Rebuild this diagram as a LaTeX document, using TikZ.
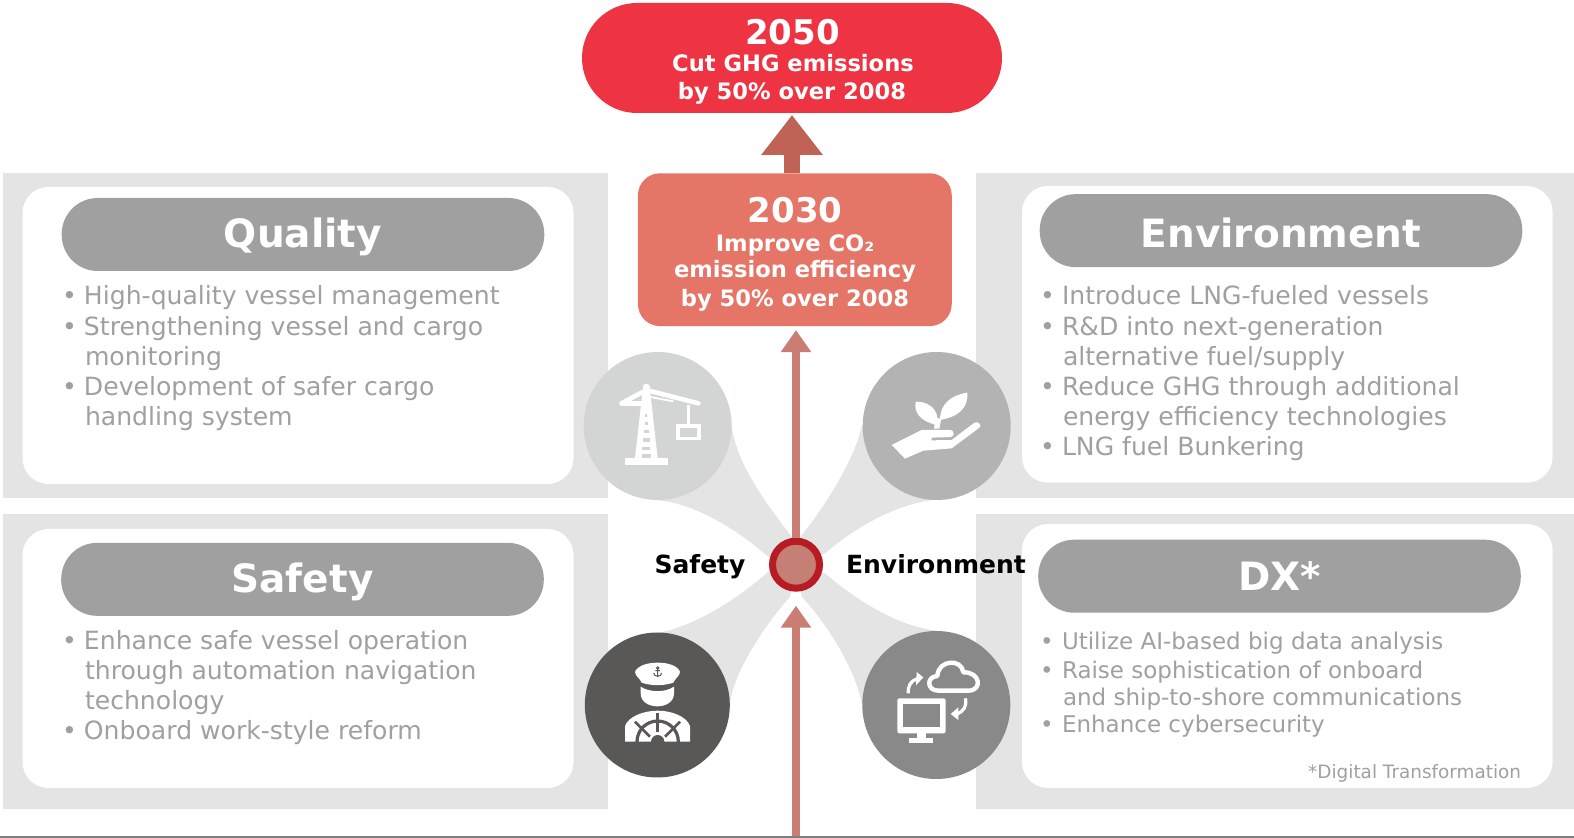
\documentclass[tikz,border=0pt]{standalone}
\usepackage{fontspec}
\setmainfont{DejaVu Sans}
\usetikzlibrary{arrows.meta,calc}
\definecolor{panelgray}{HTML}{E4E4E4}
\definecolor{pillgray}{HTML}{A0A0A0}
\definecolor{redtop}{HTML}{EE3343}
\definecolor{redmid}{HTML}{E57567}
\definecolor{arrtop}{HTML}{BF6357}
\definecolor{arrthin}{HTML}{C97D73}
\definecolor{hubfill}{HTML}{C67F74}
\definecolor{hubring}{HTML}{B71C24}
\definecolor{ccrane}{HTML}{D3D5D4}
\definecolor{cleaf}{HTML}{B3B3B3}
\definecolor{ccapt}{HTML}{595856}
\definecolor{ccloud}{HTML}{898989}
\newcommand{\bu}{\makebox[11pt][l]{•}}
\tikzset{
  every node/.style={inner sep=0pt,outer sep=0pt},
  panel/.style={fill=panelgray,minimum width=#1},
  card/.style={fill=white,rounded corners=13pt,minimum width=#1},
  pill/.style={fill=pillgray,rounded corners=18pt,minimum width=241.3pt,minimum height=36.5pt,text=white,font=\fontsize{19.5}{22}\selectfont\bfseries,text height=13.5pt,text depth=0pt},
  body/.style={anchor=base west,text=pillgray,font=\fontsize{12.55}{14}\selectfont},
  bodysm/.style={anchor=base west,text=pillgray,font=\fontsize{11.5}{13}\selectfont},
  note/.style={anchor=base east,text=pillgray,font=\fontsize{9.2}{11}\selectfont},
  yeartxt/.style={anchor=base,text=white,font=\fontsize{17}{20}\selectfont\bfseries},
  goaltxt/.style={anchor=base,text=white,font=\fontsize{11.3}{13}\selectfont\bfseries},
  axis/.style={anchor=base,text=black,font=\fontsize{12.5}{15}\selectfont\bfseries},
  disc/.style={circle,minimum size=#1},
  thinarrow/.style={draw=arrthin,line width=4pt,-{Triangle[width=14.5pt,length=11pt]}},
  fatarrow/.style={draw=arrtop,line width=8pt,-{Triangle[width=29.5pt,length=20pt]}},
  zoomed/.style={shift={(560,340)},x=0.16667pt,y=-0.16667pt},
}
\begin{document}
\begin{tikzpicture}[x=0.5pt,y=-0.5pt]
\useasboundingbox (0,0) rectangle (1574,838);
\fill[white] (0,0) rectangle (1574,838);
% panels
\node[panel=302.5pt,minimum height=162.5pt] (pTL) at (305.5,335.5) {};
\node[panel=302.5pt,minimum height=147.35pt] (pBL) at (305.5,661.35) {};
\node[panel=299pt,minimum height=162.5pt] (pTR) at (1275,335.5) {};
\node[panel=299pt,minimum height=147.35pt] (pBR) at (1275,661.35) {};
\node[card=275.5pt,minimum height=148.5pt] (cTL) at (298,335.5) {};
\node[card=275.5pt,minimum height=129.5pt] (cBL) at (298,658.5) {};
\node[card=265.3pt,minimum height=148.35pt] (cTR) at (1287.3,334.35) {};
\node[card=265.3pt,minimum height=132pt] (cBR) at (1287.3,656) {};
% pills
\node[pill] (qual) at (303,234.5) {Quality};
\node[pill] (safe) at (302.5,579.35) {Safety};
\node[pill,text height=16.5pt] (envi) at (1281,230.65) {Environment};
\node[pill,text height=14.5pt] (dx) at (1279.5,576.2) {DX*};
% Quality text
\node[body] (q1) at (62,305) {\bu High-quality vessel management};
\node[body] (q2) at (62,336) {\bu Strengthening vessel and cargo};
\node[body] (q2b) at (85,366) {monitoring};
\node[body] (q3) at (62,396) {\bu Development of safer cargo};
\node[body] (q3b) at (85,425.5) {handling system};
% Safety text
\node[body] (s1) at (62,650) {\bu Enhance safe vessel operation};
\node[body] (s1b) at (85,680) {through automation navigation};
\node[body] (s1c) at (85,710) {technology};
\node[body] (s2) at (62,740) {\bu Onboard work-style reform};
% Environment text
\node[body] (e1) at (1040,305) {\bu Introduce LNG-fueled vessels};
\node[body] (e2) at (1040,336) {\bu R\&D into next-generation};
\node[body] (e2b) at (1063,366) {alternative fuel/supply};
\node[body] (e3) at (1040,396) {\bu Reduce GHG through additional};
\node[body] (e3b) at (1063,426) {energy efficiency technologies};
\node[body] (e4) at (1040,456) {\bu LNG fuel Bunkering};
% DX text
\node[bodysm] (d1) at (1040,650) {\bu Utilize AI-based big data analysis};
\node[bodysm] (d2) at (1040,679) {\bu Raise sophistication of onboard};
\node[bodysm] (d2b) at (1063,706) {and ship-to-shore communications};
\node[bodysm] (d3) at (1040,733) {\bu Enhance cybersecurity};
\node[note] (dn) at (1521,778) {*Digital Transformation};
% bottom rule
\coordinate (ruleL) at (0,837);
\coordinate (ruleR) at (1574,837);
\draw[draw=gray,line width=1pt] (ruleL) -- (ruleR);
% star
\begin{scope}[zoomed]
\fill[panelgray] (515,258) .. controls (530,370) and (610,480) .. (695,590) -- (710,674) -- (625,650) .. controls (520,560) and (400,490) .. (290,480) -- (293,258) -- cycle;
\fill[panelgray] (905,258) .. controls (890,340) and (810,480) .. (722,590) -- (710,674) -- (795,640) .. controls (900,550) and (1020,490) .. (1130,478) -- (1130,258) -- cycle;
\fill[panelgray] (510,1090) .. controls (520,1000) and (610,860) .. (690,770) -- (710,674) -- (625,695) .. controls (530,780) and (400,860) .. (290,880) -- (292,1095) -- cycle;
\fill[panelgray] (905,1090) .. controls (890,1000) and (810,860) .. (725,770) -- (710,674) -- (795,700) .. controls (900,790) and (1020,860) .. (1130,872) -- (1128,1095) -- cycle;
\end{scope}
% discs
\node[disc=74pt,fill=ccrane] (dcrane) at (657.7,426) {};
\node[disc=74pt,fill=cleaf] (dleaf) at (936.7,426) {};
\node[disc=72.5pt,fill=ccapt] (dcapt) at (657.3,705) {};
\node[disc=74pt,fill=ccloud] (dcloud) at (936.3,705) {};
% goals
\node[fill=redtop,rounded corners=27.5pt,minimum width=210pt,minimum height=55pt] (y2050) at (792,58) {};
\node[fill=redmid,rounded corners=11pt,minimum width=156.9pt,minimum height=76.4pt] (y2030) at (794.85,249.7) {};
\node[yeartxt] (a1) at (792.5,44.5) {2050};
\node[goaltxt] (a2) at (793,72) {Cut GHG emissions};
\node[goaltxt] (a3) at (792,99.5) {by 50\% over 2008};
\node[yeartxt] (b1) at (795,223) {2030};
\node[goaltxt] (b2) at (795,251.7) {Improve CO₂};
\node[goaltxt] (b3) at (795,277.7) {emission efficiency};
\node[goaltxt] (b4) at (795,306.5) {by 50\% over 2008};
% hub and arrows
\node[disc=23.5pt,fill=hubfill,draw=hubring,line width=3.5pt,outer sep=1.75pt] (hub) at (796,564.7) {};
\coordinate (base) at (796,836);
\draw[thinarrow,shorten >=2pt] (hub.north) -- (hub |- y2030.south);
\draw[thinarrow,shorten >=7pt] (base) -- (hub.south);
\draw[fatarrow,shorten >=1pt] (y2050 |- y2030.north) -- (y2050.south);
% labels
\node[axis] (lsafe) at (700,574) {Safety};
\node[axis] (lenv) at (936,574) {Environment};
% crane icon
\begin{scope}[zoomed]
\fill[white] (195,355) rectangle (323,375);
\fill[white] (248,150) -- (270,150) -- (293,355) -- (225,355) -- cycle;
\fill[white] (259,142) circle (11);
\draw[white,line width=2.3pt,line cap=round] (185,190) -- (259,150) -- (415,190);
\draw[white,line width=2.3pt,line cap=round] (185,190) -- (250,190);
\draw[white,line width=0.9pt] (265,170) -- (340,184);
\foreach \yy/\hw in {222/3,245/5,270/7,295/10,320/12,343/14} {\fill[ccrane] (259-\hw,\yy) rectangle (259+\hw,\yy+10);}
\fill[white] (381,195) rectangle (389,254);
\fill[white] (348,252) rectangle (422,300);
\fill[ccrane] (361,264) rectangle (410,290);
\end{scope}
% leaf icon
\begin{scope}[zoomed]
\fill[white] (995,315) -- (1085,270) -- (1172,270) .. controls (1184,272) and (1184,290) .. (1172,291) -- (1115,293) -- (1115,301) -- (1175,300) -- (1243,248) .. controls (1256,242) and (1266,256) .. (1258,263) -- (1175,325) -- (1090,332) -- (1035,356) -- cycle;
\fill[white] (1067,185) .. controls (1125,185) and (1140,230) .. (1130,255) .. controls (1085,245) and (1060,220) .. (1067,185) -- cycle;
\fill[white] (1222,158) .. controls (1175,165) and (1140,190) .. (1140,240) .. controls (1195,230) and (1225,205) .. (1222,158) -- cycle;
\fill[white] (1126,235) -- (1144,235) -- (1138,266) -- (1122,266) -- cycle;
\end{scope}
% captain icon
\begin{scope}[zoomed]
\fill[white] (225,995) .. controls (235,975) and (265,968) .. (293,968) .. controls (321,968) and (351,975) .. (360,995) .. controls (360,1008) and (345,1015) .. (340,1028) .. controls (310,1038) and (275,1038) .. (245,1028) .. controls (240,1015) and (225,1008) .. (225,995) -- cycle;
\fill[white] (242,1040) .. controls (270,1058) and (315,1058) .. (342,1040) -- (342,1060) .. controls (342,1112) and (242,1112) .. (242,1060) -- cycle;
\fill[white] (195,1205) -- (195,1158) .. controls (205,1130) and (250,1112) .. (293,1112) .. controls (336,1112) and (380,1130) .. (390,1158) -- (390,1205) -- cycle;
\begin{scope}
\clip (195,1100) rectangle (390,1205);
\draw[ccapt,line width=1.6pt] (293,1205) circle (62);
\fill[ccapt] (293,1205) circle (20);
\draw[ccapt,line width=1.3pt] (293,1118) -- (293,1175);
\draw[ccapt,line width=1.3pt] (225,1145) -- (270,1190);
\draw[ccapt,line width=1.3pt] (360,1145) -- (315,1190);
\end{scope}
\draw[ccapt,line width=0.5pt] (293,985) -- (293,1011) (281,999) .. controls (282,1012) and (304,1012) .. (305,999) (286,992) -- (300,992);
\draw[ccapt,line width=0.5pt] (293,984) circle (3.5);
\end{scope}
% cloud icon
\begin{scope}[zoomed]
\fill[white,rounded corners=1pt] (1012,1075) rectangle (1157,1180);
\fill[ccloud] (1030,1092) rectangle (1140,1162);
\fill[white] (1070,1180) rectangle (1097,1196);
\fill[white] (1048,1195) rectangle (1118,1210);
\draw[white,line width=2.2pt,line join=round] (1135,1052) .. controls (1100,1052) and (1098,1010) .. (1132,1008) .. controls (1135,958) and (1205,955) .. (1210,997) .. controls (1262,995) and (1268,1052) .. (1225,1052) -- cycle;
\draw[white,line width=1.6pt] (1045,1060) .. controls (1043,1038) and (1052,1022) .. (1072,1016);
\fill[white] (1070,996) -- (1090,1012) -- (1068,1036) -- cycle;
\draw[white,line width=1.6pt] (1216,1075) .. controls (1222,1098) and (1210,1114) .. (1192,1122);
\fill[white] (1195,1102) -- (1172,1122) -- (1195,1140) -- cycle;
\end{scope}
\end{tikzpicture}
\end{document}
